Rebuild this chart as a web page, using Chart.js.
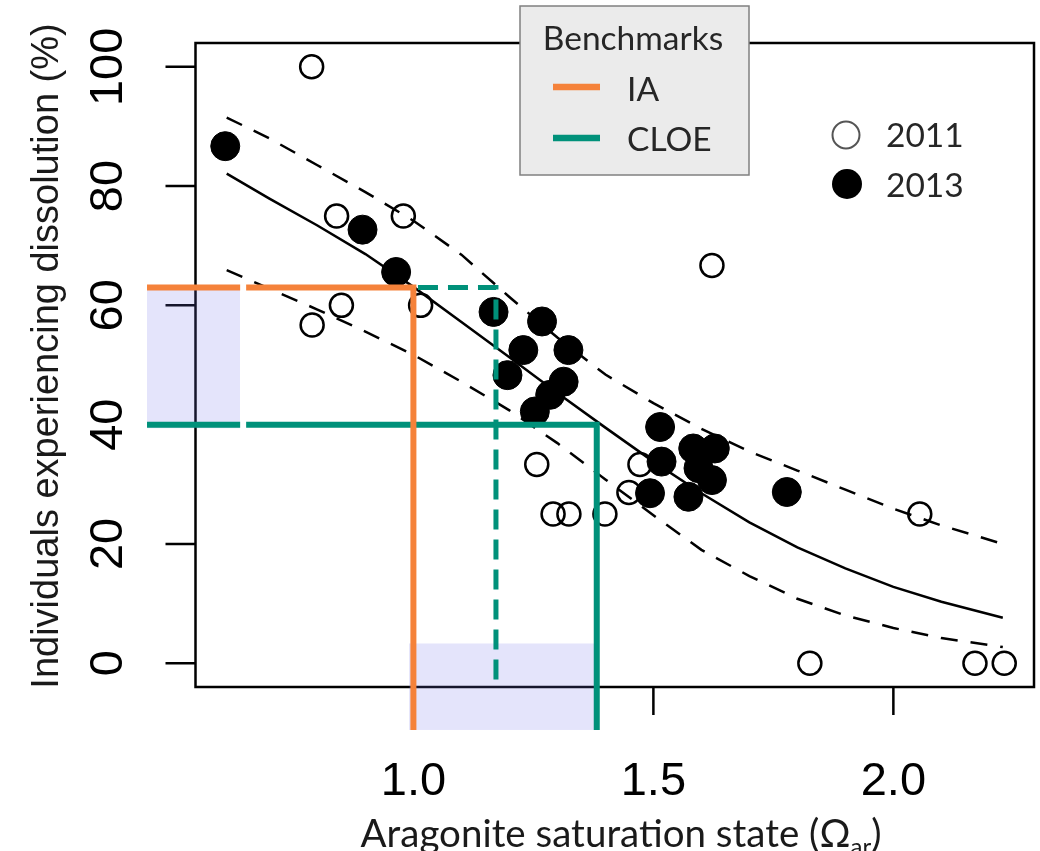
<!DOCTYPE html>
<html>
<head>
<meta charset="utf-8">
<script src="https://cdn.jsdelivr.net/npm/chart.js@4.4.1/dist/chart.umd.min.js"></script>
<style>
  html, body { margin: 0; padding: 0; background: #fff; overflow: hidden; }
  canvas { display: block; }
</style>
</head>
<body>
<canvas id="dissolutionChart" width="1040" height="851"></canvas>
<script>
// 2011 survey (open circles)
const omega2011 = [0.788, 0.840, 0.979, 0.789, 0.850, 1.015, 1.622, 1.257, 1.291, 1.324, 1.399, 1.472, 1.449, 2.055, 1.826, 2.170, 2.231];
const pct2011   = [100, 75, 75, 56.7, 60, 60, 66.7, 33.3, 25, 25, 25, 33.3, 28.6, 25, 0, 0, 0];

// 2013 survey (filled circles)
const omega2013 = [0.608, 0.894, 0.964, 1.167, 1.268, 1.229, 1.323, 1.196, 1.313, 1.285, 1.253, 1.514, 1.517, 1.493, 1.583, 1.628, 1.594, 1.622, 1.573, 1.778];
const pct2013   = [86.7, 72.7, 65.6, 58.9, 57.3, 52.5, 52.5, 48.3, 47.2, 45.0, 42.2, 39.6, 33.8, 28.5, 36.0, 36.0, 32.7, 30.7, 27.9, 28.7];

// fitted curve and its band
const fitOmega = [0.611, 0.7, 0.8, 0.9, 1.0, 1.1, 1.2, 1.3, 1.4, 1.5, 1.6, 1.7, 1.8, 1.9, 2.0, 2.1, 2.228];
const fitMid   = [82.1, 77.9, 73.4, 68.6, 63.1, 57.2, 51.3, 45.3, 39.5, 33.8, 28.5, 23.6, 19.4, 15.9, 12.8, 10.3, 7.6];
const fitHigh  = [91.5, 88.0, 83.5, 79.0, 74.2, 68.5, 61.4, 54.6, 48.4, 43.6, 39.3, 35.5, 32.3, 29.1, 25.9, 23.1, 20.0];
const fitLow   = [65.9, 62.8, 59.3, 55.6, 51.7, 47.2, 42.4, 36.9, 30.8, 24.8, 19.0, 14.6, 10.8, 8.0, 5.9, 4.2, 2.7];

// benchmarks
const iaOmega = 1.0, iaPct = 63;
const cloeOmega = 1.382, cloePct = 40;
const cloeDashOmega = 1.172, cloeDashStart = 0.572;
const benchLeft = 0.445, benchBottom = -11.2;

// shaded ranges
const bandPctRange = [39.4, 63.4], bandPctOmega = [0.445, 0.639];
const bandOmegaRange = [0.991, 1.382], bandOmegaPct = [-11.2, 3.3];

// axes
const xTicks = [1.0, 1.5, 2.0];
const xTickLabels = ['1.0', '1.5', '2.0'];
const yTicks = [0, 20, 40, 60, 80, 100];
const yTickLabels = ['0', '20', '40', '60', '80', '100'];
const xRange = [0.546, 2.293];
const yRange = [-4, 104];

const ORANGE = '#F5823A';
const TEAL = '#00917A';
const SHADE = 'rgba(110, 110, 235, 0.19)';
const CALIBRI = 'Lato, "Open Sans", sans-serif';
const ARIAL = '"Liberation Sans", Arial, sans-serif';

function pts(xs, ys) {
    return xs.map((x, i) => ({ x: x, y: ys[i] }));
}

// axes, ticks and titles in R style
const axesPlugin = {
    id: 'axesPlugin',
    beforeDatasetsDraw(chart) {
        const { ctx, chartArea: a, scales: { x, y } } = chart;
        ctx.save();
        ctx.strokeStyle = '#000';
        ctx.lineWidth = 2.5;
        ctx.strokeRect(a.left, a.top, a.right - a.left, a.bottom - a.top);

        ctx.beginPath();
        yTicks.forEach(v => {
            const py = y.getPixelForValue(v);
            ctx.moveTo(a.left, py);
            ctx.lineTo(a.left - 30, py);
        });
        xTicks.forEach(v => {
            const px = x.getPixelForValue(v);
            ctx.moveTo(px, a.bottom);
            ctx.lineTo(px, a.bottom + 28);
        });
        ctx.stroke();

        ctx.fillStyle = '#000';
        ctx.font = '47px ' + ARIAL;
        ctx.textAlign = 'center';
        ctx.textBaseline = 'alphabetic';
        xTicks.forEach((v, i) => {
            ctx.fillText(xTickLabels[i], x.getPixelForValue(v), 795);
        });
        yTicks.forEach((v, i) => {
            ctx.save();
            ctx.translate(122, y.getPixelForValue(v));
            ctx.rotate(-Math.PI / 2);
            ctx.fillText(yTickLabels[i], 0, 0);
            ctx.restore();
        });

        // y title
        ctx.save();
        ctx.font = '38px ' + ARIAL;
        ctx.fillStyle = '#1a1a1a';
        ctx.translate(58, 356);
        ctx.rotate(-Math.PI / 2);
        ctx.fillText('Individuals experiencing dissolution (%)', 0, 0);
        ctx.restore();

        // x title with subscript
        const main = 'Aragonite saturation state (\u03A9';
        const sub = 'ar';
        const close = ')';
        ctx.fillStyle = '#1a1a1a';
        ctx.textAlign = 'left';
        ctx.font = '38.5px ' + CALIBRI;
        const wMain = ctx.measureText(main).width;
        const wClose = ctx.measureText(close).width;
        ctx.font = '24px ' + CALIBRI;
        const wSub = ctx.measureText(sub).width;
        let tx = 621 - (wMain + wSub + wClose) / 2;
        ctx.font = '38.5px ' + CALIBRI;
        ctx.fillText(main, tx, 847);
        tx += wMain;
        ctx.font = '24px ' + CALIBRI;
        ctx.fillText(sub, tx, 855);
        tx += wSub;
        ctx.font = '38.5px ' + CALIBRI;
        ctx.fillText(close, tx, 847);
        ctx.restore();
    },
    afterDatasetDraw(chart, args) {
        // shaded ranges sit above the points, below the benchmark lines
        if (args.index !== 3) return;
        const { ctx, scales: { x, y } } = chart;
        ctx.save();
        ctx.fillStyle = SHADE;
        let x0 = x.getPixelForValue(bandPctOmega[0]), x1 = x.getPixelForValue(bandPctOmega[1]);
        let y0 = y.getPixelForValue(bandPctRange[1]), y1 = y.getPixelForValue(bandPctRange[0]);
        ctx.fillRect(x0, y0, x1 - x0, y1 - y0);
        x0 = x.getPixelForValue(bandOmegaRange[0]); x1 = x.getPixelForValue(bandOmegaRange[1]);
        y0 = y.getPixelForValue(bandOmegaPct[1]); y1 = y.getPixelForValue(bandOmegaPct[0]);
        ctx.fillRect(x0, y0, x1 - x0, y1 - y0);
        ctx.restore();
    },
    afterDraw(chart) {
        const { ctx, scales: { x, y } } = chart;
        ctx.save();
        // small white cut in the horizontal benchmark lines
        const gx = x.getPixelForValue(bandPctOmega[1]);
        ctx.fillStyle = '#fff';
        ctx.fillRect(gx, y.getPixelForValue(64.2), 6, y.getPixelForValue(39) - y.getPixelForValue(64.2));

        // Benchmarks legend
        ctx.fillStyle = '#EBEBEB';
        ctx.fillRect(520, 6, 229, 169);
        ctx.strokeStyle = '#808080';
        ctx.lineWidth = 1.5;
        ctx.strokeRect(520, 6, 229, 169);
        ctx.fillStyle = '#262626';
        ctx.font = '33.5px ' + CALIBRI;
        ctx.textAlign = 'center';
        ctx.textBaseline = 'alphabetic';
        ctx.fillText('Benchmarks', 633, 50);
        ctx.textAlign = 'left';
        ctx.fillText('IA', 627, 101);
        ctx.fillText('CLOE', 627, 151);
        ctx.lineWidth = 6.5;
        ctx.strokeStyle = ORANGE;
        ctx.beginPath(); ctx.moveTo(553, 87); ctx.lineTo(600, 87); ctx.stroke();
        ctx.strokeStyle = TEAL;
        ctx.beginPath(); ctx.moveTo(553, 138); ctx.lineTo(600, 138); ctx.stroke();

        // year legend
        ctx.lineWidth = 2;
        ctx.strokeStyle = '#555';
        ctx.beginPath(); ctx.arc(846, 135, 13.5, 0, Math.PI * 2); ctx.stroke();
        ctx.fillStyle = '#000';
        ctx.beginPath(); ctx.arc(847, 184, 15, 0, Math.PI * 2); ctx.fill();
        ctx.fillStyle = '#262626';
        ctx.font = '33.5px ' + CALIBRI;
        ctx.fillText('2011', 886, 147);
        ctx.fillText('2013', 886, 197);
        ctx.restore();
    }
};

const chart = new Chart(document.getElementById('dissolutionChart'), {
    type: 'scatter',
    data: {
        datasets: [
            {   // IA benchmark
                data: [{ x: benchLeft, y: iaPct }, { x: iaOmega, y: iaPct }, { x: iaOmega, y: benchBottom }],
                showLine: true, borderColor: ORANGE, borderWidth: 6, pointRadius: 0, clip: false,
                borderCapStyle: 'butt', borderJoinStyle: 'miter'
            },
            {   // CLOE benchmark
                data: [{ x: benchLeft, y: cloePct }, { x: cloeOmega, y: cloePct }, { x: cloeOmega, y: benchBottom }],
                showLine: true, borderColor: TEAL, borderWidth: 6, pointRadius: 0, clip: false,
                borderCapStyle: 'butt', borderJoinStyle: 'miter'
            },
            {   // CLOE at the IA level
                data: [{ x: cloeDashStart, y: iaPct }, { x: cloeDashOmega, y: iaPct }, { x: cloeDashOmega, y: yRange[0] }],
                showLine: true, borderColor: TEAL, borderWidth: 5, borderDash: [20, 10], pointRadius: 0, clip: false,
                borderCapStyle: 'butt'
            },
            {
                label: '2013',
                data: pts(omega2013, pct2013),
                pointRadius: 14.5, pointBackgroundColor: '#000', pointBorderColor: '#000', pointBorderWidth: 1,
                clip: false
            },
            {
                label: '2011',
                data: pts(omega2011, pct2011),
                pointRadius: 11.5, pointBackgroundColor: 'rgba(0,0,0,0)', pointBorderColor: '#000', pointBorderWidth: 2.5,
                clip: false
            },
            {
                data: pts(fitOmega, fitMid),
                showLine: true, borderColor: '#000', borderWidth: 2.5, pointRadius: 0, clip: false
            },
            {
                data: pts(fitOmega, fitHigh),
                showLine: true, borderColor: '#000', borderWidth: 2.5, borderDash: [17, 13], pointRadius: 0, clip: false
            },
            {
                data: pts(fitOmega, fitLow),
                showLine: true, borderColor: '#000', borderWidth: 2.5, borderDash: [17, 13], pointRadius: 0, clip: false
            }
        ]
    },
    options: {
        responsive: false,
        maintainAspectRatio: false,
        animation: false,
        devicePixelRatio: 1,
        events: [],
        layout: { autoPadding: false, padding: { left: 195.5, top: 43, right: 6, bottom: 164 } },
        plugins: { legend: { display: false }, tooltip: { enabled: false } },
        scales: {
            x: { type: 'linear', min: xRange[0], max: xRange[1], display: false },
            y: { type: 'linear', min: yRange[0], max: yRange[1], display: false }
        }
    },
    plugins: [axesPlugin]
});
</script>
</body>
</html>
